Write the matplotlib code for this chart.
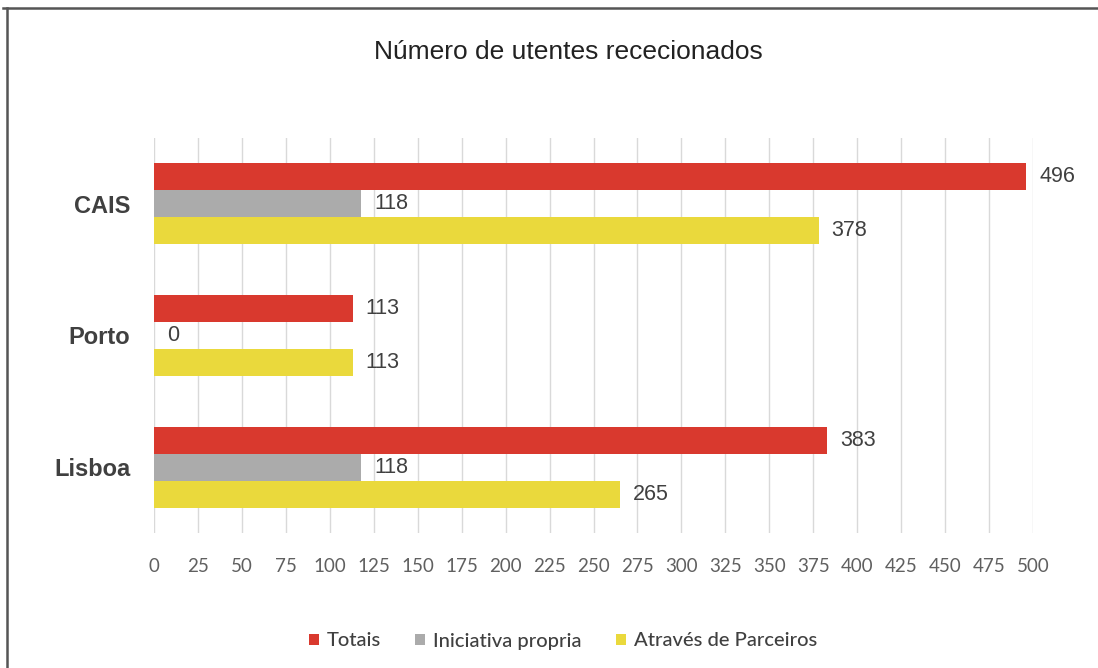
import matplotlib
matplotlib.use("Agg")
import matplotlib.pyplot as plt
from matplotlib.lines import Line2D
import numpy as np

categories = ["Lisboa", "Porto", "CAIS"]
totais = [383, 113, 496]
iniciativa = [118, 0, 118]
parceiros = [265, 113, 378]
series_names = ["Totais", "Iniciativa propria", "Através de Parceiros"]
xticks = list(range(0, 501, 25))

colors = ["#D9392E", "#ABABAB", "#EAD93C"]

fig = plt.figure(figsize=(10.98, 6.68), dpi=100)
ax = fig.add_axes([154/1098, 1-533/668, (1033-154)/1098, (533-138)/668])

y = np.arange(len(categories))
h = 0.205
offsets = [h, 0, -h]
data = [totais, iniciativa, parceiros]
bars = []
for vals, off, col, name in zip(data, offsets, colors, series_names):
    b = ax.barh(y + off, vals, height=h, color=col, label=name, zorder=3)
    bars.append(b)
    for yi, v in zip(y + off, vals):
        ax.text(v + 7.5, yi, str(v), va="center", ha="left", fontsize=15.5,
                family="Liberation Sans", color="#404040")

ax.set_xlim(0, 500)
ax.set_ylim(-0.5, 2.5)
ax.set_xticks(xticks)
ax.set_xticklabels([str(t) for t in xticks], fontsize=13.5, family="Lato", color="#606060")
ax.set_yticks(y)
ax.set_yticklabels(categories, fontsize=17, family="Liberation Sans", fontweight="bold", color="#404040")
ax.tick_params(axis="x", length=0, pad=18)
ax.tick_params(axis="y", length=0, pad=17)
ax.grid(axis="x", color="#D9D9D9", linewidth=1, zorder=0)
for s in ax.spines.values():
    s.set_visible(False)

fig.text(568/1098, 1-52/668, "Número de utentes rececionados", ha="center", va="center",
         fontsize=19, family="Liberation Sans", color="#222222")

leg = fig.legend(handles=bars, labels=series_names, loc="center", bbox_to_anchor=(563/1098, 1-641/668),
                 ncol=3, frameon=False, prop={"family": "Lato", "size": 14.5, "weight": "medium"},
                 handlelength=0.5, handleheight=0.5, handletextpad=0.4, columnspacing=1.7)
for t in leg.get_texts():
    t.set_color("#404040")

fig.add_artist(Line2D([3/1098, 1], [1-8/668, 1-8/668], transform=fig.transFigure, color="#555555", lw=1.8))
fig.add_artist(Line2D([7/1098, 7/1098], [0, 1-8/668], transform=fig.transFigure, color="#555555", lw=1.8))

fig.savefig("out.png", dpi=100)
